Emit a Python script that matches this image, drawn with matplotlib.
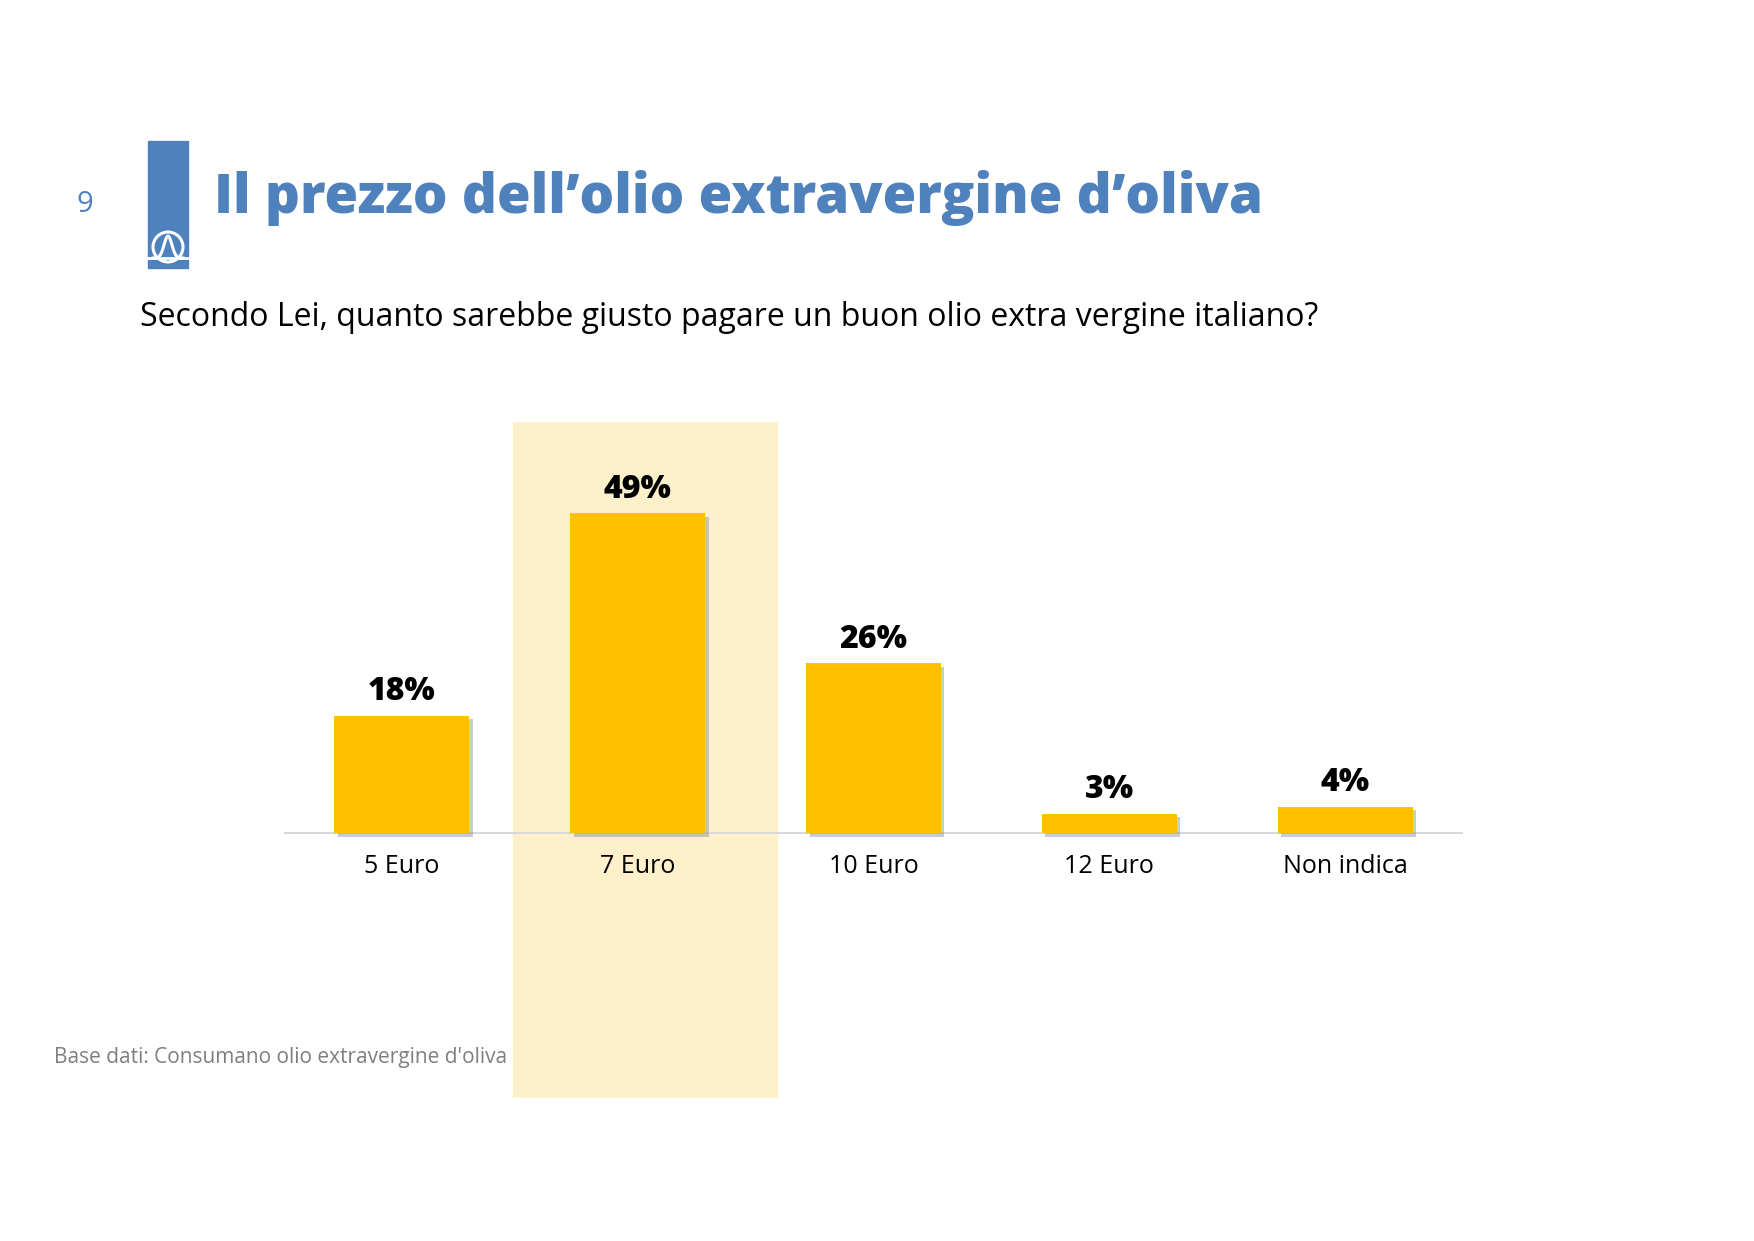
import matplotlib.pyplot as plt
import matplotlib.patheffects as pe
from matplotlib.patches import Rectangle, Circle
import numpy as np

plt.rcParams['font.family'] = ['Open Sans', 'DejaVu Sans']

# dati
categorie = ['5 Euro', '7 Euro', '10 Euro', '12 Euro', 'Non indica']
valori = [18, 49, 26, 3, 4]
etichette = ['18%', '49%', '26%', '3%', '4%']
evidenziata = '7 Euro'

titolo = "Il prezzo dell\u2019olio extravergine d\u2019oliva"
domanda = "Secondo Lei, quanto sarebbe giusto pagare un buon olio extra vergine italiano?"
nota = "Base dati: Consumano olio extravergine d'oliva"
pagina = '9'

W, H = 1754, 1241
fig = plt.figure(figsize=(W / 100, H / 100), dpi=100)

# sfondo in coordinate pixel per intestazione e logo
bg = fig.add_axes([0, 0, 1, 1])
bg.set_xlim(0, W)
bg.set_ylim(H, 0)
bg.axis('off')

blu = '#4F81BD'
bg.add_patch(Rectangle((148, 141), 40, 127, color=blu))
bg.plot([148, 188], [258, 258], color='white', lw=2)
bg.add_patch(Circle((168, 247), 15, fill=False, ec='white', lw=2.2))
xs = np.linspace(-15, 15, 60)
bg.plot(168 + xs, 258 - 22 * np.exp(-(xs / 5.5) ** 2), color='white', lw=2.2)

bg.text(85, 204, pagina, color=blu, fontsize=21, ha='center', va='center')
bg.text(214, 213, titolo, color=blu, fontsize=39.3, fontweight='heavy',
        ha='left', va='baseline')
bg.text(140, 318, domanda, color='black', fontsize=23, ha='left', va='center')
bg.text(54, 1058, nota, color='#7F7F7F', fontsize=15, ha='left', va='center')

# grafico
ax = fig.add_axes([284 / W, 1 - 1098 / H, (1463 - 284) / W, (1098 - 422) / H])
ax.set_xlim(-0.5, len(categorie) - 0.5)
ax.set_ylim(-40.6, 63)
ax.patch.set_alpha(0)
for s in ax.spines.values():
    s.set_visible(False)
ax.set_xticks([])
ax.set_yticks([])

x = np.arange(len(categorie))
i = categorie.index(evidenziata)
ax.axvspan(i - 0.53, i + 0.59, color='#FFF0CC', zorder=0)
ax.axhline(0, color='#D9D9D9', lw=1.5, zorder=1)

barre = ax.bar(x, valori, width=0.572, color='#FFC000', zorder=2)
for b in barre:
    b.set_path_effects([pe.SimplePatchShadow(offset=(2.5, -2.5), shadow_rgbFace='#808080', alpha=0.4),
                        pe.Normal()])

for xi, v, t in zip(x, valori, etichette):
    ax.text(xi, v + 3.6, t, ha='center', va='center', fontsize=23,
            fontweight='heavy', color='black', zorder=3)

# etichette delle categorie sotto la linea dello zero
for xi, c in zip(x, categorie):
    ax.annotate(c, (xi, 0), xytext=(0, -24), textcoords='offset points',
                ha='center', va='center', fontsize=18, color='black')

fig.savefig('out.png', dpi=100)
